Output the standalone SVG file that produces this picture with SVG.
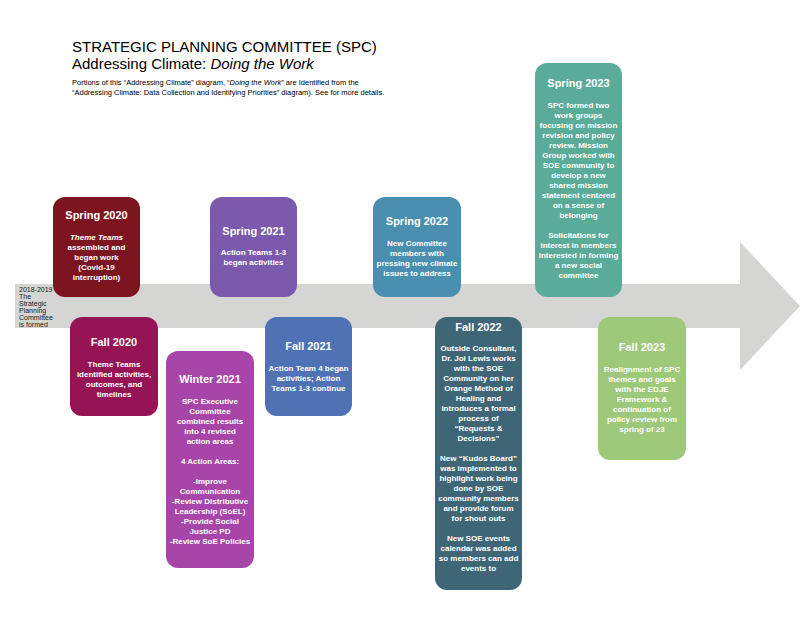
<svg xmlns="http://www.w3.org/2000/svg" width="800" height="618" viewBox="0 0 800 618">
<style>
.b{stroke:none}
.h{font-family:"Liberation Sans",Arial,sans-serif;font-size:11px;font-weight:bold;fill:#fff;text-anchor:middle}
.t{font-family:"Liberation Sans",Arial,sans-serif;font-size:8px;font-weight:bold;fill:#fff;text-anchor:middle}
.s{font-family:"Liberation Sans",Arial,sans-serif;font-size:7px;fill:#222}
</style>
<rect width="800" height="618" fill="#fff"/>
<g id="title" font-family="Liberation Sans,Arial,sans-serif">
<text x="72" y="52" font-size="15">STRATEGIC PLANNING COMMITTEE (SPC)</text>
<text x="72" y="69" font-size="15">Addressing Climate: <tspan font-style="italic">Doing the Work</tspan></text>
<text x="72" y="85" font-size="7.5">Portions of this “Addressing Climate” diagram, “<tspan font-style="italic">Doing the Work</tspan>” are Identified from the</text>
<text x="72" y="95" font-size="7.5">“Addressing Climate: Data Collection and Identifying Priorities” diagram). See for more details.</text>
</g>
<g id="connectors">
<path d="M15 284 H740 V242 L800 306 L740 370 V328 H15 Z" fill="#d5d5d3"/>
</g>
<g id="start">
<text class="s" x="19" y="292">2018-2019</text>
<text class="s" x="19" y="299">The</text>
<text class="s" x="19" y="306">Strategic</text>
<text class="s" x="19" y="313">Planning</text>
<text class="s" x="19" y="320">Committee</text>
<text class="s" x="19" y="327">is formed</text>
</g>
<g id="spring2020">
<rect x="53" y="197" width="87" height="100" rx="12" fill="#7c1520"/>
<text class="h" x="96.5" y="219">Spring 2020</text>
<text class="t" x="96.5" y="240"><tspan font-style="italic">Theme Teams</tspan></text>
<text class="t" x="96.5" y="250">assembled and</text>
<text class="t" x="96.5" y="260">began work</text>
<text class="t" x="96.5" y="270">(Covid-19</text>
<text class="t" x="96.5" y="280">interruption)</text>
</g>
<g id="fall2020">
<rect x="70" y="317" width="88" height="99" rx="12" fill="#961456"/>
<text class="h" x="114" y="346">Fall 2020</text>
<text class="t" x="114" y="367">Theme Teams</text>
<text class="t" x="114" y="377">identified activities,</text>
<text class="t" x="114" y="387">outcomes, and</text>
<text class="t" x="114" y="397">timelines</text>
</g>
<g id="winter2021">
<rect x="166" y="351" width="88" height="217" rx="12" fill="#a845a8"/>
<text class="h" x="210" y="383">Winter 2021</text>
<text class="t" x="210" y="404">SPC Executive</text>
<text class="t" x="210" y="414">Committee</text>
<text class="t" x="210" y="424">combined results</text>
<text class="t" x="210" y="434">into 4 revised</text>
<text class="t" x="210" y="444">action areas</text>
<text class="t" x="210" y="464">4 Action Areas:</text>
<text class="t" x="210" y="484">-Improve</text>
<text class="t" x="210" y="494">Communication</text>
<text class="t" x="210" y="504">-Review Distributive</text>
<text class="t" x="210" y="514">Leadership (SoEL)</text>
<text class="t" x="210" y="524">-Provide Social</text>
<text class="t" x="210" y="534">Justice PD</text>
<text class="t" x="210" y="544">-Review SoE Policies</text>
</g>
<g id="spring2021">
<rect x="210" y="197" width="87" height="100" rx="12" fill="#7b5aad"/>
<text class="h" x="253.5" y="235">Spring 2021</text>
<text class="t" x="253.5" y="255">Action Teams 1-3</text>
<text class="t" x="253.5" y="265">began activities</text>
</g>
<g id="fall2021">
<rect x="265" y="317" width="87" height="99" rx="12" fill="#4f72b5"/>
<text class="h" x="308.5" y="350">Fall 2021</text>
<text class="t" x="308.5" y="371">Action Team 4 began</text>
<text class="t" x="308.5" y="381">activities; Action</text>
<text class="t" x="308.5" y="391">Teams 1-3 continue</text>
</g>
<g id="spring2022">
<rect x="373" y="197" width="88" height="100" rx="12" fill="#4a8fb0"/>
<text class="h" x="417" y="225">Spring 2022</text>
<text class="t" x="417" y="246">New Committee</text>
<text class="t" x="417" y="256">members with</text>
<text class="t" x="417" y="266">pressing new climate</text>
<text class="t" x="417" y="276">issues to address</text>
</g>
<g id="fall2022">
<rect x="435" y="317" width="87" height="273" rx="12" fill="#3f6676"/>
<text class="h" x="478.5" y="331">Fall 2022</text>
<text class="t" x="478.5" y="351">Outside Consultant,</text>
<text class="t" x="478.5" y="361">Dr. Joi Lewis works</text>
<text class="t" x="478.5" y="371">with the SOE</text>
<text class="t" x="478.5" y="381">Community on her</text>
<text class="t" x="478.5" y="391">Orange Method of</text>
<text class="t" x="478.5" y="401">Healing and</text>
<text class="t" x="478.5" y="411">introduces a formal</text>
<text class="t" x="478.5" y="421">process of</text>
<text class="t" x="478.5" y="431">“Requests &amp;</text>
<text class="t" x="478.5" y="441">Decisions”</text>
<text class="t" x="478.5" y="461">New “Kudos Board”</text>
<text class="t" x="478.5" y="471">was implemented to</text>
<text class="t" x="478.5" y="481">highlight work being</text>
<text class="t" x="478.5" y="491">done by SOE</text>
<text class="t" x="478.5" y="501">community members</text>
<text class="t" x="478.5" y="511">and provide forum</text>
<text class="t" x="478.5" y="521">for shout outs</text>
<text class="t" x="478.5" y="541">New SOE events</text>
<text class="t" x="478.5" y="551">calendar was added</text>
<text class="t" x="478.5" y="561">so members can add</text>
<text class="t" x="478.5" y="571">events to</text>
</g>
<g id="spring2023">
<rect x="535" y="63" width="87" height="234" rx="12" fill="#5aab98"/>
<text class="h" x="578.5" y="87">Spring 2023</text>
<text class="t" x="578.5" y="108">SPC formed two</text>
<text class="t" x="578.5" y="118">work groups</text>
<text class="t" x="578.5" y="128">focusing on mission</text>
<text class="t" x="578.5" y="138">revision and policy</text>
<text class="t" x="578.5" y="148">review. Mission</text>
<text class="t" x="578.5" y="158">Group worked with</text>
<text class="t" x="578.5" y="168">SOE community to</text>
<text class="t" x="578.5" y="178">develop a new</text>
<text class="t" x="578.5" y="188">shared mission</text>
<text class="t" x="578.5" y="198">statement centered</text>
<text class="t" x="578.5" y="208">on a sense of</text>
<text class="t" x="578.5" y="218">belonging</text>
<text class="t" x="578.5" y="238">Solicitations for</text>
<text class="t" x="578.5" y="248">interest in members</text>
<text class="t" x="578.5" y="258">interested in forming</text>
<text class="t" x="578.5" y="268">a new social</text>
<text class="t" x="578.5" y="278">committee</text>
</g>
<g id="fall2023">
<rect x="598" y="317" width="88" height="143" rx="12" fill="#9ec97a"/>
<text class="h" x="642" y="351">Fall 2023</text>
<text class="t" x="642" y="372">Realignment of SPC</text>
<text class="t" x="642" y="382">themes and goals</text>
<text class="t" x="642" y="392">with the EDJE</text>
<text class="t" x="642" y="402">Framework &amp;</text>
<text class="t" x="642" y="412">continuation of</text>
<text class="t" x="642" y="422">policy review from</text>
<text class="t" x="642" y="432">spring of 23</text>
</g>
</svg>
